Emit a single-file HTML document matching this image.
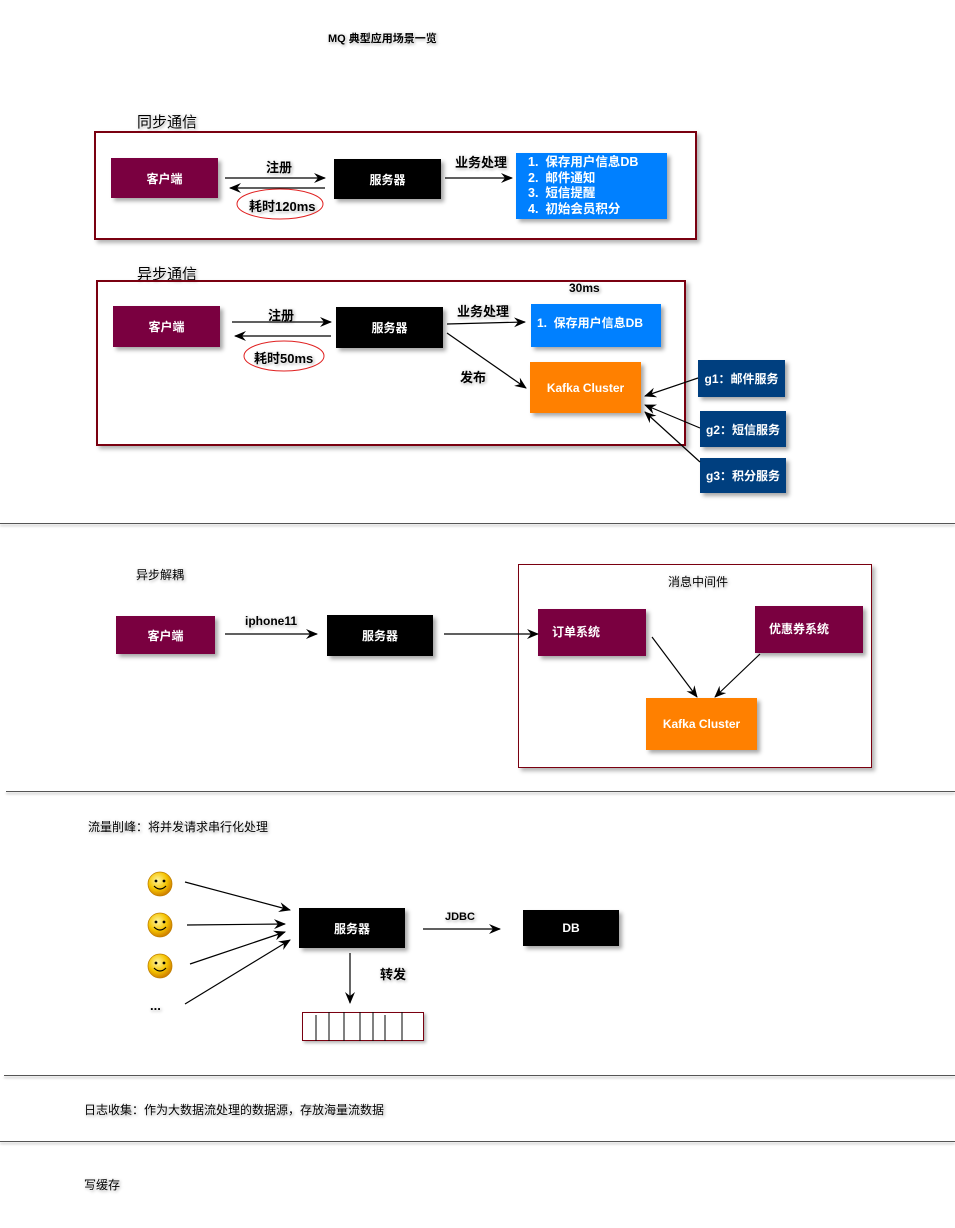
<!DOCTYPE html>
<html><head><meta charset="utf-8"><style>
body{margin:0;width:955px;height:1228px;background:#fff;position:relative;overflow:hidden;font-family:"Liberation Sans","Noto Sans CJK SC",sans-serif;}
.a{position:absolute;}
.b{position:absolute;display:flex;align-items:center;justify-content:center;color:#fff;font-size:12px;font-weight:bold;box-shadow:3px 3px 4px rgba(0,0,0,.35);}
.t{position:absolute;font-size:12px;white-space:nowrap;text-shadow:0 0 2px #fff,0 0 3px #fff,1px 1px 3px #888;}
.k{font-weight:bold;font-size:13px;}
.pur{background:#7a0040}.blk{background:#000}.org{background:#ff8000}.nav{background:#003f7f}.blu{background:#0080ff}
.hr{position:absolute;height:1px;background:#555;box-shadow:0 2px 2px rgba(0,0,0,.3);}
</style></head><body>
<div class="t" style="left:328px;top:30px;font-weight:bold;font-size:11px">MQ 典型应用场景一览</div>

<div class="t" style="left:137px;top:111px;font-size:15px">同步通信</div>
<div class="a" style="left:94px;top:131px;width:599px;height:105px;border:2px solid #7a0010;box-shadow:3px 3px 4px rgba(0,0,0,.3)"></div>
<div class="b pur" style="left:111px;top:158px;width:107px;height:40px">客户端</div>
<div class="b blk" style="left:334px;top:159px;width:107px;height:40px">服务器</div>
<div class="t k" style="left:266px;top:157px">注册</div>
<div class="t k" style="left:455px;top:152px">业务处理</div>
<div class="b blu" style="left:516px;top:153px;width:151px;height:66px;justify-content:flex-start;align-items:flex-start;padding:2px 0 0 12px;box-sizing:border-box;line-height:15.5px;font-size:12.5px">1.&nbsp; 保存用户信息DB<br>2.&nbsp; 邮件通知<br>3.&nbsp; 短信提醒<br>4.&nbsp; 初始会员积分</div>
<div class="t k" style="left:249px;top:196px">耗时120ms</div>

<div class="t" style="left:137px;top:263px;font-size:15px">异步通信</div>
<div class="a" style="left:96px;top:280px;width:586px;height:162px;border:2px solid #7a0010;box-shadow:3px 3px 4px rgba(0,0,0,.3)"></div>
<div class="b pur" style="left:113px;top:306px;width:107px;height:41px">客户端</div>
<div class="b blk" style="left:336px;top:307px;width:107px;height:41px">服务器</div>
<div class="t k" style="left:268px;top:305px">注册</div>
<div class="t k" style="left:457px;top:301px">业务处理</div>
<div class="t k" style="left:569px;top:281px;font-size:12px">30ms</div>
<div class="b blu" style="left:531px;top:304px;width:130px;height:43px;justify-content:flex-start;padding-left:6px;box-sizing:border-box;align-items:flex-start;padding-top:10px">1.&nbsp; 保存用户信息DB</div>
<div class="t k" style="left:460px;top:367px">发布</div>
<div class="b org" style="left:530px;top:362px;width:111px;height:51px">Kafka Cluster</div>
<div class="t k" style="left:254px;top:348px">耗时50ms</div>
<div class="b nav" style="left:698px;top:360px;width:87px;height:37px">g1：邮件服务</div>
<div class="b nav" style="left:700px;top:411px;width:86px;height:36px">g2：短信服务</div>
<div class="b nav" style="left:700px;top:458px;width:86px;height:35px">g3：积分服务</div>

<div class="hr" style="left:0;top:523px;width:955px"></div>

<div class="t" style="left:136px;top:566px">异步解耦</div>
<div class="b pur" style="left:116px;top:616px;width:99px;height:38px">客户端</div>
<div class="t k" style="left:245px;top:614px;font-size:12px">iphone11</div>
<div class="b blk" style="left:327px;top:615px;width:106px;height:41px">服务器</div>
<div class="a" style="left:518px;top:564px;width:352px;height:202px;border:1px solid #7a0010;box-shadow:3px 3px 4px rgba(0,0,0,.3)"></div>
<div class="t" style="left:668px;top:573px">消息中间件</div>
<div class="b pur" style="left:538px;top:609px;width:108px;height:47px;justify-content:flex-start;padding-left:14px;box-sizing:border-box;align-items:flex-start;padding-top:14px">订单系统</div>
<div class="b pur" style="left:755px;top:606px;width:108px;height:47px;justify-content:flex-start;padding-left:14px;box-sizing:border-box;align-items:flex-start;padding-top:14px">优惠券系统</div>
<div class="b org" style="left:646px;top:698px;width:111px;height:52px">Kafka Cluster</div>

<div class="hr" style="left:6px;top:791px;width:949px"></div>

<div class="t" style="left:88px;top:818px">流量削峰：将并发请求串行化处理</div>
<div class="b blk" style="left:299px;top:908px;width:106px;height:40px">服务器</div>
<div class="t k" style="left:445px;top:911px;font-size:11px">JDBC</div>
<div class="b blk" style="left:523px;top:910px;width:96px;height:36px">DB</div>
<div class="t k" style="left:380px;top:964px">转发</div>
<div class="t k" style="left:150px;top:998px">...</div>
<div class="a" style="left:302px;top:1012px;width:120px;height:27px;border:1px solid #7a0010;box-shadow:2px 2px 3px rgba(0,0,0,.3)"></div>

<div class="hr" style="left:4px;top:1075px;width:951px"></div>
<div class="t" style="left:84px;top:1101px">日志收集：作为大数据流处理的数据源，存放海量流数据</div>
<div class="hr" style="left:0;top:1141px;width:955px"></div>
<div class="t" style="left:84px;top:1176px">写缓存</div>

<svg class="a" style="left:0;top:0" width="955" height="1228">
<defs>
<marker id="m" markerWidth="12" markerHeight="10" refX="11" refY="5" orient="auto" markerUnits="userSpaceOnUse"><path d="M0,0 L12,5 L0,10 L4,5z" fill="#000"/></marker>
<radialGradient id="sg" cx="40%" cy="35%" r="65%"><stop offset="0" stop-color="#fff6a0"/><stop offset=".6" stop-color="#f5c400"/><stop offset="1" stop-color="#d08000"/></radialGradient>
<g id="sm"><circle r="12" fill="url(#sg)" stroke="#c08000" stroke-width=".8"/><circle cx="-4" cy="-3" r="1.4"/><circle cx="4" cy="-3" r="1.4"/><path d="M-6,2 Q0,8 6,2" stroke="#000" stroke-width="1.2" fill="none"/></g>
</defs>
<g stroke="#000" stroke-width="1.2" fill="none" marker-end="url(#m)">
<line x1="225" y1="178" x2="325" y2="178"/><line x1="325" y1="188" x2="230" y2="188"/>
<line x1="445" y1="178" x2="512" y2="178"/>
<line x1="232" y1="322" x2="331" y2="322"/><line x1="331" y1="336" x2="235" y2="336"/>
<line x1="447" y1="324" x2="525" y2="322"/><line x1="447" y1="333" x2="526" y2="388"/>
<line x1="698" y1="378" x2="645" y2="396"/><line x1="700" y1="428" x2="645" y2="405"/><line x1="700" y1="462" x2="645" y2="412"/>
<line x1="225" y1="634" x2="317" y2="634"/><line x1="444" y1="634" x2="538" y2="634"/>
<line x1="652" y1="637" x2="697" y2="697"/><line x1="760" y1="654" x2="715" y2="697"/>
<line x1="185" y1="882" x2="290" y2="910"/><line x1="187" y1="925" x2="285" y2="924"/><line x1="190" y1="964" x2="285" y2="932"/><line x1="185" y1="1004" x2="290" y2="940"/>
<line x1="423" y1="929" x2="500" y2="929"/><line x1="350" y1="953" x2="350" y2="1003"/>
</g>
<ellipse cx="280" cy="204" rx="43" ry="15" fill="none" stroke="#e02020"/>
<ellipse cx="284" cy="356" rx="40" ry="15" fill="none" stroke="#e02020"/>
<g stroke="#000" stroke-width="1"><line x1="316" y1="1015" x2="316" y2="1041"/><line x1="329" y1="1012" x2="329" y2="1041"/><line x1="344" y1="1012" x2="344" y2="1041"/><line x1="360" y1="1012" x2="360" y2="1041"/><line x1="373" y1="1012" x2="373" y2="1041"/><line x1="385" y1="1015" x2="385" y2="1041"/><line x1="402" y1="1012" x2="402" y2="1041"/></g>
<use href="#sm" x="160" y="884"/><use href="#sm" x="160" y="925"/><use href="#sm" x="160" y="966"/>
</svg>
</body></html>
